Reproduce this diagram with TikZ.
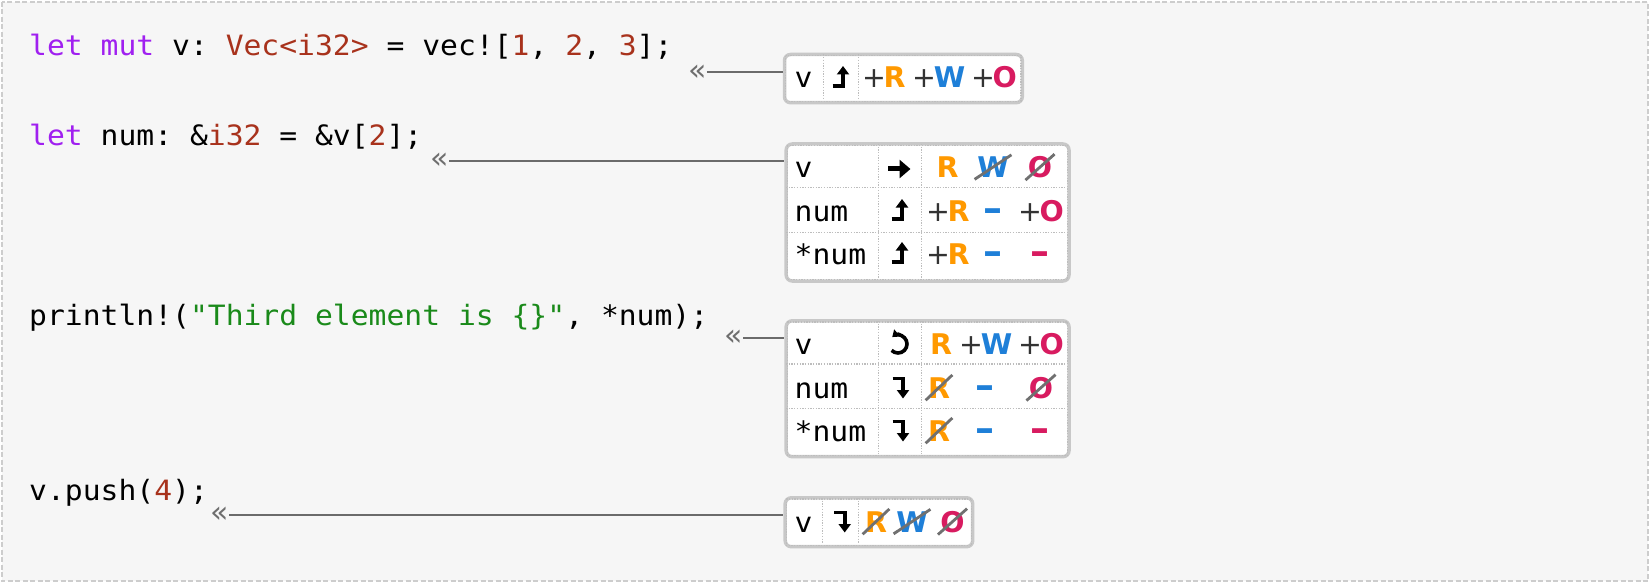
\documentclass[tikz,border=0pt]{standalone}
\usepackage{fontspec}
\usetikzlibrary{arrows.meta}
\newfontfamily\codefont[FakeStretch=1.06]{DejaVu Sans Mono}
\newfontfamily\permfont{DejaVu Sans}
\definecolor{kw}{HTML}{A020F0}
\definecolor{ty}{HTML}{A8321C}
\definecolor{st}{HTML}{1A8A1A}
\definecolor{rc}{HTML}{FF9900}
\definecolor{wc}{HTML}{1E7FD8}
\definecolor{oc}{HTML}{D81B60}
\definecolor{plc}{HTML}{333333}
\definecolor{bgc}{HTML}{F6F6F6}
\definecolor{framec}{HTML}{CDCDCD}
\definecolor{boxc}{HTML}{C8C8C8}
\definecolor{dotc}{HTML}{BDBDBD}
\definecolor{connc}{HTML}{6B6B6B}
\definecolor{markc}{HTML}{6E6E6E}
\definecolor{slashc}{HTML}{707070}
\newcommand{\pR}{\textcolor{rc}{R}}
\newcommand{\pW}{\textcolor{wc}{W}}
\newcommand{\pO}{\textcolor{oc}{O}}
\newcommand{\pmplus}{\textcolor{plc}{\mdseries +}\kern-2.5pt}
\newcommand{\wdash}{\textcolor{wc}{\fontsize{38}{38}\selectfont –}}
\newcommand{\odash}{\textcolor{oc}{\fontsize{38}{38}\selectfont –}}
\tikzset{
  code/.style={font=\codefont\fontsize{28}{32}\selectfont\frenchspacing, inner sep=0pt, anchor=base west, text=black},
  lbl/.style={code},
  perm/.style={font=\permfont\bfseries\fontsize{28.5}{30}\selectfont, inner sep=0pt, anchor=base},
  slash/.style={draw=slashc, line width=2.8pt, shorten <=-3pt, shorten >=-3pt},
  crossed/.style={perm, append after command={(\tikzlastnode.south west) edge[slash] (\tikzlastnode.north east)}},
  marker/.style={font=\permfont\fontsize{30}{30}\selectfont, text=markc, inner sep=0pt},
  conn/.style={draw=connc, line width=2pt},
  tblbox/.style={draw=boxc, line width=3.5pt, rounded corners=6pt, fill=white, inner sep=0pt, anchor=north west},
  dotline/.style={draw=dotc, line width=1.3pt, dash pattern=on 1.3pt off 1.4pt},
  iconline/.style={draw=black, line width=3.8pt, line join=miter},
  upicon/.pic={\draw[iconline, -{Triangle[width=12pt,length=8.5pt]}] (-7.5,-1.9) -- (3,-1.9) -- (3,-22);},
  downicon/.pic={\draw[iconline, -{Triangle[width=12pt,length=8.5pt]}] (-7.5,-19.5) -- (3,-19.5) -- (3,0.5);},
  righticon/.pic={\draw[draw=black, line width=5pt, -{Triangle[width=18pt,length=11pt]}] (-11,-8.5) -- (11.5,-8.5);},
  loopicon/.pic={\draw[iconline, line width=3.6pt, -{Triangle[width=9pt,length=6.5pt]}] ([shift={(-225:9)}]0,-10) arc[start angle=-225, end angle=-490, radius=9];}
}
\begin{document}
\begin{tikzpicture}[x=1pt, y=-1pt]
\useasboundingbox (0,0) rectangle (1650,583);
\fill[white] (0,0) rectangle (1650,583);
\draw[draw=framec, fill=bgc, line width=2pt, dash pattern=on 5pt off 2.5pt] (2,2) rectangle (1648,581);

% code lines
\node[code] (c1) at (29,56) {\textcolor{kw}{let} \textcolor{kw}{mut} v: \textcolor{ty}{Vec<i32>} = vec![\textcolor{ty}{1}, \textcolor{ty}{2}, \textcolor{ty}{3}];};
\node[code] (c2) at (29,146) {\textcolor{kw}{let} num: \&\textcolor{ty}{i32} = \&v[\textcolor{ty}{2}];};
\node[code] (c3) at (29,325) {println!(\textcolor{st}{"Third element is \{\}"}, *num);};
\node[code] (c4) at (29,500) {v.push(\textcolor{ty}{4});};

% boxes
\node[tblbox, minimum width=237.8pt, minimum height=48.2pt] (b1) at (782.75,52.75) {};
\node[tblbox, minimum width=282.8pt, minimum height=137pt] (b2) at (784.45,142.25) {};
\node[tblbox, minimum width=282.8pt, minimum height=135.9pt] (b3) at (784.45,319.05) {};
\node[tblbox, minimum width=187.5pt, minimum height=48.9pt] (b4) at (783.45,496.05) {};

% inner dotted frames and dividers
\foreach \b in {b1,b2,b3,b4}{
  \draw[dotline] ([shift={(3,3)}]\b.north west) rectangle ([shift={(-3,-3)}]\b.south east);
}
\draw[dotline] (823.3,54.5) -- (823.3,99.5);
\draw[dotline] (858.3,54.5) -- (858.3,99.5);
\draw[dotline] (878.3,144) -- (878.3,277.5);
\draw[dotline] (921.7,144) -- (921.7,277.5);
\draw[dotline] (786,187.3) -- (1065.5,187.3);
\draw[dotline] (786,232.3) -- (1065.5,232.3);
\draw[dotline] (878.3,321) -- (878.3,453.5);
\draw[dotline] (921.7,321) -- (921.7,453.5);
\draw[dotline] (786,364) -- (1065.5,364);
\draw[dotline] (786,408.3) -- (1065.5,408.3);
\draw[dotline] (822.7,498) -- (822.7,543.5);
\draw[dotline] (858.3,498) -- (858.3,543.5);

% markers and connectors
\node[marker] (m1) at (697.5,72.3) {«};
\node[marker] (m2) at (440,161) {«};
\node[marker] (m3) at (734,337.7) {«};
\node[marker] (m4) at (220,515) {«};
\draw[conn] (m1.east) -- (m1.east -| b1.west);
\draw[conn] (m2.east) -- (m2.east -| b2.west);
\draw[conn] (m3.east) -- (m3.east -| b3.west);
\draw[conn] (m4.east) -- (m4.east -| b4.west);

% box 1
\node[lbl] (b1l) at (794.5,88) {v};
\pic at (840,88) {upicon};
\node[perm] (b1p1) at (884,88) {\pmplus\pR};
\node[perm] (b1p2) at (939,88) {\pmplus\pW};
\node[perm] (b1p3) at (994,88) {\pmplus\pO};

% box 2
\node[lbl] (b2l1) at (794.5,177.5) {v};
\node[lbl] (b2l2) at (794.5,221) {num};
\node[lbl] (b2l3) at (794.5,264) {*num};
\pic at (899,177.5) {righticon};
\pic at (899,221) {upicon};
\pic at (899,264) {upicon};
\node[perm] (b2r1a) at (947.5,177.5) {\pR};
\node[crossed] (b2r1b) at (993,177.5) {\pW};
\node[crossed] (b2r1c) at (1040,177.5) {\pO};
\node[perm] (b2r2a) at (948,221) {\pmplus\pR};
\node[perm] (b2r2b) at (993,221) {\wdash};
\node[perm] (b2r2c) at (1041,221) {\pmplus\pO};
\node[perm] (b2r3a) at (948,264) {\pmplus\pR};
\node[perm] (b2r3b) at (993,264) {\wdash};
\node[perm] (b2r3c) at (1040,264) {\odash};

% box 3
\node[lbl] (b3l1) at (794.5,354) {v};
\node[lbl] (b3l2) at (794.5,398) {num};
\node[lbl] (b3l3) at (794.5,441) {*num};
\pic at (898,354) {loopicon};
\pic at (900,398) {downicon};
\pic at (900,441) {downicon};
\node[perm] (b3r1a) at (941,354) {\pR};
\node[perm] (b3r1b) at (986,354) {\pmplus\pW};
\node[perm] (b3r1c) at (1041,354) {\pmplus\pO};
\node[crossed] (b3r2a) at (939,398) {\pR};
\node[perm] (b3r2b) at (985,398) {\wdash};
\node[crossed] (b3r2c) at (1041,398) {\pO};
\node[crossed] (b3r3a) at (939,441) {\pR};
\node[perm] (b3r3b) at (985,441) {\wdash};
\node[perm] (b3r3c) at (1040,441) {\odash};

% box 4
\node[lbl] (b4l) at (794.5,532) {v};
\pic at (841.7,532) {downicon};
\node[crossed] (b4p1) at (876,532) {\pR};
\node[crossed] (b4p2) at (912,532) {\pW};
\node[crossed] (b4p3) at (952.5,532) {\pO};
\end{tikzpicture}
\end{document}
